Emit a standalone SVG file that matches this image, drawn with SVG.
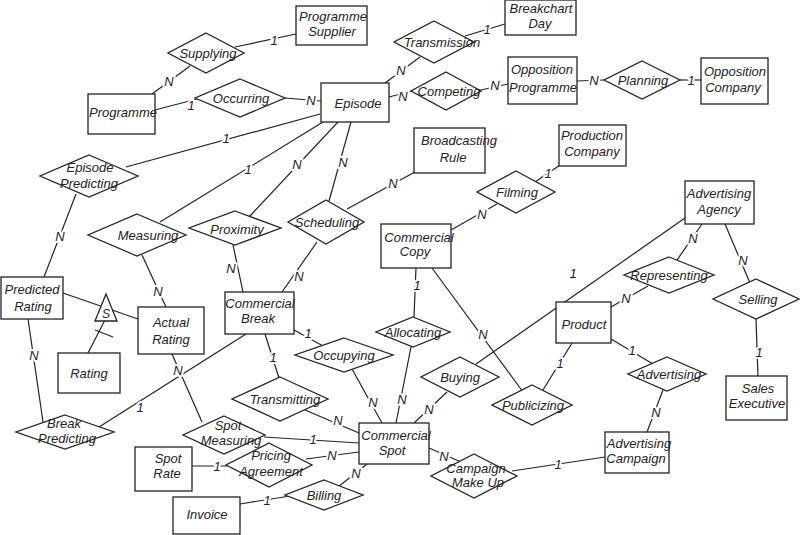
<svg xmlns="http://www.w3.org/2000/svg" width="800" height="535" viewBox="0 0 800 535">
<style>
.e{fill:#fff;stroke:#222;stroke-width:1.3}
.r{fill:#fff;stroke:#222;stroke-width:1.3}
.c line{stroke:#222;stroke-width:1.2}
text{font-family:"Liberation Sans",Arial,sans-serif;font-style:italic;font-size:13px;fill:#222;text-anchor:middle}
.l{stroke:#fff;stroke-width:4;paint-order:stroke;stroke-linejoin:round}
</style>
<rect width="800" height="535" fill="#fff"/>
<g id="connectors" class="c">
<line x1="235" y1="47" x2="296" y2="34"/><text class="l" x="274" y="45">1</text>
<line x1="190" y1="66" x2="152" y2="94"/><text class="l" x="169" y="86">N</text>
<line x1="155" y1="110" x2="197" y2="99"/><text class="l" x="191" y="110">1</text>
<line x1="285" y1="98" x2="321" y2="101"/><text class="l" x="311" y="105">N</text>
<line x1="385" y1="83" x2="420" y2="57"/><text class="l" x="401" y="75">N</text>
<line x1="465" y1="36" x2="505" y2="24"/><text class="l" x="487" y="34">1</text>
<line x1="389" y1="97" x2="412" y2="91"/><text class="l" x="403" y="101">N</text>
<line x1="481" y1="90" x2="508" y2="84"/><text class="l" x="495" y="90">N</text>
<line x1="577" y1="81" x2="604" y2="80"/><text class="l" x="594" y="85">N</text>
<line x1="680" y1="80" x2="701" y2="80"/><text class="l" x="691" y="85">1</text>
<line x1="320" y1="114" x2="126" y2="167"/><text class="l" x="226" y="143">1</text>
<line x1="76" y1="194" x2="44" y2="277"/><text class="l" x="60" y="241">N</text>
<line x1="323" y1="122" x2="160" y2="222"/><text class="l" x="248" y="174">1</text>
<line x1="142" y1="255" x2="166" y2="307"/><text class="l" x="158" y="296">N</text>
<line x1="338" y1="122" x2="249" y2="217"/><text class="l" x="297" y="169">N</text>
<line x1="233" y1="245" x2="243" y2="292"/><text class="l" x="231" y="273">N</text>
<line x1="351" y1="122" x2="329" y2="201"/><text class="l" x="343" y="167">N</text>
<line x1="317" y1="242" x2="282" y2="292"/><text class="l" x="299" y="281">N</text>
<line x1="347" y1="209" x2="415" y2="172"/><text class="l" x="393" y="188">N</text>
<line x1="451" y1="230" x2="497" y2="204"/><text class="l" x="482" y="219">N</text>
<line x1="535" y1="182" x2="560" y2="165"/><text class="l" x="548" y="178">1</text>
<line x1="702" y1="224" x2="677" y2="260"/><text class="l" x="693" y="243">N</text>
<line x1="648" y1="286" x2="611" y2="307"/><text class="l" x="626" y="303">N</text>
<line x1="725" y1="224" x2="750" y2="283"/><text class="l" x="743" y="265">N</text>
<line x1="756" y1="319" x2="758" y2="376"/><text class="l" x="759" y="357">1</text>
<line x1="685" y1="218" x2="476" y2="364"/><text class="l" x="573" y="278">1</text>
<line x1="416" y1="268" x2="414" y2="317"/><text class="l" x="417" y="290">1</text>
<line x1="432" y1="268" x2="523" y2="392"/><text class="l" x="483" y="339">N</text>
<line x1="572" y1="343" x2="543" y2="390"/><text class="l" x="560" y="368">1</text>
<line x1="611" y1="339" x2="653" y2="364"/><text class="l" x="632" y="355">1</text>
<line x1="663" y1="390" x2="647" y2="432"/><text class="l" x="656" y="417">N</text>
<line x1="512" y1="471" x2="605" y2="457"/><text class="l" x="558" y="469">1</text>
<line x1="429" y1="448" x2="461" y2="462"/><text class="l" x="444" y="461">N</text>
<line x1="447" y1="392" x2="414" y2="423"/><text class="l" x="429" y="414">N</text>
<line x1="411" y1="347" x2="396" y2="423"/><text class="l" x="402" y="404">N</text>
<line x1="352" y1="369" x2="382" y2="423"/><text class="l" x="373" y="407">N</text>
<line x1="294" y1="330" x2="323" y2="346"/><text class="l" x="308" y="338">1</text>
<line x1="265" y1="334" x2="279" y2="378"/><text class="l" x="273" y="362">1</text>
<line x1="305" y1="410" x2="359" y2="433"/><text class="l" x="338" y="425">N</text>
<line x1="246" y1="334" x2="99" y2="427"/><text class="l" x="140" y="412">1</text>
<line x1="28" y1="319" x2="43" y2="422"/><text class="l" x="34" y="360">N</text>
<line x1="172" y1="354" x2="202" y2="422"/><text class="l" x="178" y="375">N</text>
<line x1="264" y1="437" x2="359" y2="443"/><text class="l" x="313" y="444">1</text>
<line x1="306" y1="459" x2="359" y2="452"/><text class="l" x="332" y="460">N</text>
<line x1="192" y1="466" x2="227" y2="466"/><text class="l" x="217" y="471">1</text>
<line x1="367" y1="464" x2="338" y2="487"/><text class="l" x="356" y="478">N</text>
<line x1="240" y1="504" x2="290" y2="496"/><text class="l" x="267" y="505">1</text>
<line x1="63" y1="293" x2="138" y2="319"/>
<line x1="88" y1="353" x2="106" y2="318"/>
<line x1="95" y1="330" x2="113" y2="337"/>
</g>
<g id="subset-S">
<polygon class="r" points="106,294 117,321 95,321"/>
<text x="106" y="318" style="font-size:12px">S</text>
</g>
<g id="programme-supplier"><rect class="e" x="296" y="6" width="71" height="39"/><text x="333" y="21">Programme</text><text x="332" y="36">Supplier</text></g>
<g id="breakchart-day"><rect class="e" x="505" y="0" width="71" height="35"/><text x="541" y="13">Breakchart</text><text x="540" y="28">Day</text></g>
<g id="programme"><rect class="e" x="88" y="94" width="67" height="40"/><text x="123" y="117">Programme</text></g>
<g id="episode"><rect class="e" x="321" y="83" width="68" height="39"/><text x="358" y="108">Episode</text></g>
<g id="opposition-programme"><rect class="e" x="508" y="57" width="69" height="47"/><text x="542" y="74">Opposition</text><text x="543" y="92">Programme</text></g>
<g id="opposition-company"><rect class="e" x="701" y="58" width="67" height="46"/><text x="735" y="76">Opposition</text><text x="733" y="92">Company</text></g>
<g id="broadcasting-rule"><rect class="e" x="414" y="128" width="71" height="45"/><text x="459" y="145">Broadcasting</text><text x="453" y="162">Rule</text></g>
<g id="production-company"><rect class="e" x="559" y="125" width="67" height="41"/><text x="592" y="140">Production</text><text x="592" y="156">Company</text></g>
<g id="advertising-agency"><rect class="e" x="685" y="181" width="69" height="43"/><text x="719" y="198">Advertising</text><text x="719" y="214">Agency</text></g>
<g id="commercial-copy"><rect class="e" x="381" y="224" width="70" height="44"/><text x="419" y="242">Commercial</text><text x="415" y="256">Copy</text></g>
<g id="product"><rect class="e" x="556" y="302" width="55" height="41"/><text x="584" y="329">Product</text></g>
<g id="predicted-rating"><rect class="e" x="1" y="277" width="62" height="42"/><text x="32" y="294">Predicted</text><text x="33" y="311">Rating</text></g>
<g id="actual-rating"><rect class="e" x="138" y="307" width="66" height="47"/><text x="171" y="327">Actual</text><text x="171" y="344">Rating</text></g>
<g id="commercial-break"><rect class="e" x="225" y="292" width="69" height="42"/><text x="260" y="308">Commercial</text><text x="258" y="323">Break</text></g>
<g id="rating"><rect class="e" x="58" y="353" width="62" height="40"/><text x="89" y="378">Rating</text></g>
<g id="sales-executive"><rect class="e" x="726" y="376" width="61" height="44"/><text x="758" y="393">Sales</text><text x="757" y="408">Executive</text></g>
<g id="commercial-spot"><rect class="e" x="359" y="423" width="70" height="41"/><text x="396" y="440">Commercial</text><text x="392" y="455">Spot</text></g>
<g id="advertising-campaign"><rect class="e" x="605" y="432" width="64" height="41"/><text x="639" y="448">Advertising</text><text x="636" y="463">Campaign</text></g>
<g id="spot-rate"><rect class="e" x="135" y="447" width="57" height="44"/><text x="168" y="463">Spot</text><text x="167" y="478">Rate</text></g>
<g id="invoice"><rect class="e" x="173" y="497" width="67" height="37"/><text x="207" y="519">Invoice</text></g>
<g id="supplying"><polygon class="r" points="206,33 244,53 206,73 168,53"/><text x="208" y="58">Supplying</text></g>
<g id="occurring"><polygon class="r" points="240,79 285,98 240,117 195,98"/><text x="241" y="103">Occurring</text></g>
<g id="transmission"><polygon class="r" points="434,21 474,42 434,63 394,42"/><text x="442" y="47">Transmission</text></g>
<g id="competing"><polygon class="r" points="446,72 481,91 446,110 411,91"/><text x="449" y="96">Competing</text></g>
<g id="planning"><polygon class="r" points="642,61 680,80 642,99 604,80"/><text x="643" y="85">Planning</text></g>
<g id="episode-predicting"><polygon class="r" points="89,155 138,176 89,197 40,176"/><text x="90" y="172">Episode</text><text x="89" y="188">Predicting</text></g>
<g id="measuring"><polygon class="r" points="137,214 186,235 137,256 88,235"/><text x="148" y="240">Measuring</text></g>
<g id="proximity"><polygon class="r" points="235,211 281,228 235,245 189,228"/><text x="237" y="234">Proximity</text></g>
<g id="scheduling"><polygon class="r" points="326,200 364,222 326,244 288,222"/><text x="327" y="227">Scheduling</text></g>
<g id="filming"><polygon class="r" points="516,171 555,192 516,213 477,192"/><text x="517" y="197">Filming</text></g>
<g id="representing"><polygon class="r" points="669,257 714,275 669,293 624,275"/><text x="669" y="280">Representing</text></g>
<g id="selling"><polygon class="r" points="756,279 799,299 756,319 713,299"/><text x="758" y="304">Selling</text></g>
<g id="allocating"><polygon class="r" points="413,317 450,332 413,347 376,332"/><text x="413" y="337">Allocating</text></g>
<g id="occupying"><polygon class="r" points="344,338 393,355 344,372 295,355"/><text x="344" y="360">Occupying</text></g>
<g id="transmitting"><polygon class="r" points="280,377 328,399 280,421 232,399"/><text x="285" y="404">Transmitting</text></g>
<g id="buying"><polygon class="r" points="460,357 499,377 460,397 421,377"/><text x="460" y="382">Buying</text></g>
<g id="publicizing"><polygon class="r" points="532,385 572,405 532,425 492,405"/><text x="533" y="410">Publicizing</text></g>
<g id="advertising"><polygon class="r" points="667,357 706,374 667,391 628,374"/><text x="669" y="379">Advertising</text></g>
<g id="break-predicting"><polygon class="r" points="65,415 114,432 65,449 16,432"/><text x="64" y="428">Break</text><text x="67" y="443">Predicting</text></g>
<g id="spot-measuring"><polygon class="r" points="224,416 265,435 224,454 183,435"/><text x="228" y="430">Spot</text><text x="231" y="445">Measuring</text></g>
<g id="pricing-agreement"><polygon class="r" points="269,443 312,465 269,487 226,465"/><text x="271" y="460">Pricing</text><text x="271" y="476">Agreement</text></g>
<g id="billing"><polygon class="r" points="324,480 363,495 324,510 285,495"/><text x="324" y="500">Billing</text></g>
<g id="campaign-make-up"><polygon class="r" points="474,454 517,476 474,498 431,476"/><text x="476" y="473">Campaign</text><text x="478" y="487">Make Up</text></g>
</svg>
